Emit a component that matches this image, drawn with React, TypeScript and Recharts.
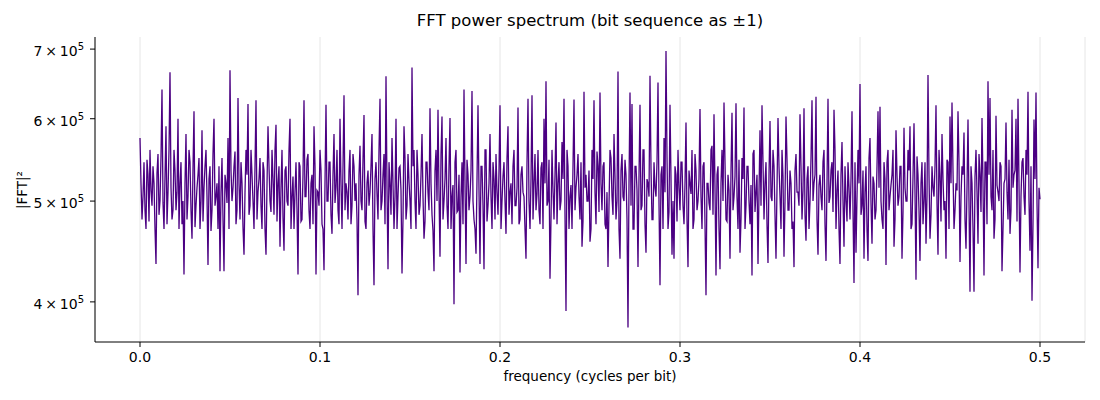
import React from 'react'
import { LineChart, Line, XAxis, YAxis, CartesianGrid } from 'recharts'

// |FFT|^2, in thousands, one value per bin (0 .. 0.5 cycles/bit)
const powerK = [
  575, 480, 545, 470, 530, 560, 495, 520, 435, 555,
  500, 640, 470, 590, 510, 665, 480, 560, 490, 600,
  520, 475, 425, 580, 505, 545, 460, 610, 495, 530,
  470, 585, 515, 560, 434, 540, 490, 600, 505, 470,
  428, 550, 428, 520, 575, 668, 500, 540, 475, 628,
  480, 520, 444, 560, 620, 495, 530, 470, 625, 510,
  550, 470, 535, 444, 590, 500, 560, 485, 592, 520,
  452, 560, 448, 540, 495, 600, 505, 470, 545, 425,
  540, 480, 625, 505, 555, 470, 530, 590, 425, 510,
  560, 475, 429, 619, 500, 545, 465, 580, 515, 490,
  600, 470, 632, 520, 480, 560, 495, 540, 520, 406,
  565, 490, 605, 470, 535, 510, 580, 415, 545, 480,
  627, 500, 555, 659, 430, 520, 575, 470, 600, 505,
  540, 426, 590, 480, 555, 500, 672, 560, 470, 530,
  495, 580, 460, 545, 510, 614, 485, 428, 560, 612,
  442, 603, 500, 575, 470, 601, 505, 398, 560, 490,
  427, 545, 640, 435, 530, 505, 638, 480, 445, 618,
  435, 540, 430, 560, 495, 580, 470, 525, 555, 485,
  618, 500, 545, 465, 590, 510, 475, 560, 495, 615,
  480, 540, 505, 440, 627, 470, 632, 520, 490, 560,
  475, 545, 600, 652, 500, 421, 560, 480, 595, 520,
  490, 570, 627, 392, 540, 505, 470, 626, 515, 555,
  480, 452, 637, 530, 500, 457, 560, 625, 475, 540,
  636, 490, 545, 470, 432, 560, 505, 580, 480, 666,
  440, 555, 500, 530, 378, 636, 620, 470, 540, 432,
  619, 495, 560, 446, 520, 660, 480, 545, 505, 650,
  415, 540, 575, 697, 470, 619, 444, 440, 530, 560,
  490, 545, 475, 595, 432, 520, 560, 480, 535, 500,
  613, 470, 545, 406, 520, 490, 565, 606, 424, 540,
  430, 560, 622, 480, 530, 440, 608, 505, 621, 470,
  446, 550, 615, 495, 540, 475, 424, 560, 510, 435,
  585, 618, 480, 545, 436, 597, 500, 540, 440, 601,
  505, 560, 442, 603, 490, 535, 470, 432, 555, 510,
  606, 480, 614, 458, 540, 500, 625, 520, 630, 444,
  530, 490, 560, 438, 627, 505, 545, 612, 470, 535,
  435, 570, 452, 500, 545, 480, 610, 417, 446, 560,
  648, 495, 440, 540, 438, 575, 455, 520, 490, 610,
  616, 480, 545, 434, 560, 505, 530, 452, 585, 495,
  540, 440, 588, 500, 560, 590, 475, 594, 420, 530,
  438, 545, 500, 455, 661, 460, 540, 505, 618, 444,
  530, 580, 490, 440, 545, 603, 622, 470, 520, 610,
  437, 540, 582, 450, 599, 409, 520, 409, 560, 455,
  530, 601, 424, 545, 652, 628, 490, 460, 604, 510,
  545, 428, 520, 595, 480, 465, 612, 530, 600, 627,
  427, 545, 505, 560, 637, 448, 401, 599, 636, 431,
  502,
]

// the bins in between, which mostly stay inside the dense band
const powerMidK = [
  520, 505, 490, 548, 478, 512, 540, 470, 532, 485,
  552, 498, 528, 475, 560, 515, 490, 535, 510, 470,
  545, 500, 520, 480, 560, 490, 538, 472, 515, 550,
  500, 478, 540, 505, 525, 468, 555, 495, 520, 540,
  510, 480, 530, 498, 470, 535, 515, 558, 490, 520,
  545, 472, 510, 530, 485, 560, 500, 540, 480, 525,
  495, 545, 470, 518, 540, 488, 525, 560, 478, 540,
  515, 482, 535, 500, 560, 470, 528, 510, 490, 545,
  478, 530, 505, 548, 490, 520, 475, 540, 512, 495,
  535, 470, 520, 500, 545, 485, 530, 498, 560, 475,
  520, 540, 490, 510, 535, 475, 555, 500, 480, 530,
  500, 548, 478, 520, 495, 540, 470, 525, 508, 560,
  490, 530, 475, 515, 545, 485, 520, 505, 470, 538,
  512, 480, 550, 495, 522, 470, 540, 500, 560, 485,
  530, 505, 478, 545, 490, 520, 468, 535, 500, 510,
  555, 480, 525, 495, 540, 470, 518, 545, 488, 530,
  505, 475, 520, 548, 490, 535, 500, 470, 525, 512,
  540, 495, 560, 478, 520, 505, 545, 480, 510, 535,
  470, 528, 500, 550, 485, 520, 540, 495, 515, 475,
  530, 510, 470, 545, 500, 525, 480, 555, 508, 490,
  538, 470, 520, 495, 548, 480, 512, 530, 475, 545,
  500, 525, 485, 560, 470, 518, 540, 490, 530, 505,
  545, 478, 515, 500, 535, 470, 525, 510, 558, 488,
  520, 540, 475, 510, 495, 550, 485, 528, 500, 470,
  535, 505, 548, 480, 520, 495, 470, 540, 512, 528,
  490, 560, 475, 525, 505, 538, 480, 515, 545, 498,
  530, 470, 510, 552, 488, 525, 500, 540, 478, 515,
  545, 495, 520, 480, 535, 508, 470, 555, 490, 525,
  505, 540, 475, 520, 498, 560, 485, 515, 530, 470,
  520, 500, 545, 478, 512, 535, 490, 528, 505, 548,
  480, 525, 470, 540, 500, 518, 555, 488, 530, 510,
  495, 545, 520, 475, 530, 505, 560, 485, 515, 540,
  470, 528, 500, 548, 490, 520, 478, 535, 510, 495,
  540, 512, 485, 525, 470, 550, 500, 530, 480, 518,
  505, 545, 475, 520, 498, 535, 488, 560, 512, 470,
  530, 500, 540, 478, 515, 525, 490, 545, 505, 520,
  485, 535, 510, 470, 550, 498, 528, 480, 540, 515,
  500, 470, 525, 545, 490, 518, 560, 480, 530, 505,
  540, 488, 515, 500, 535, 470, 528, 510, 552, 490,
  520, 475, 545, 505, 530, 485, 515, 540, 498, 560,
  478, 525, 500, 548, 470, 520, 535, 490, 512, 545,
  505, 530, 480, 515, 498, 540, 470, 528, 510, 555,
  488, 520, 545, 475, 530, 505, 560, 480, 518, 500,
  540, 470, 525, 510, 548, 490, 515, 535, 478, 520,
  505, 550, 485, 530, 500, 540, 475, 525, 498, 515,
]

const freqStep = 0.5 / (powerK.length - 1)
const xTicks = [0, 0.1, 0.2, 0.3, 0.4, 0.5]
const yTicks = [400000, 500000, 600000, 700000]

const data = powerK.flatMap((p, i) =>
  i < powerMidK.length
    ? [
        { f: i * freqStep, power: p * 1000 },
        { f: (i + 0.5) * freqStep, power: powerMidK[i] * 1000 },
      ]
    : [{ f: i * freqStep, power: p * 1000 }]
)

const font = '"DejaVu Sans", sans-serif'

function PowTick(props: any) {
  const { x, y, payload } = props
  const mant = Math.round(payload.value / 100000)
  return (
    <text x={x - 4} y={y + 2} dy="0.36em" textAnchor="end" fontSize={14} fontFamily={font} fill="#000">
      {`${mant}\u2009×\u200910`}
      <tspan dy={-6} fontSize={10}>5</tspan>
    </text>
  )
}

export default function App() {
  return (
    <div style={{ position: 'absolute', left: 0, top: 0, width: 1100, height: 400, background: '#fff', fontFamily: font }}>
      <div style={{ position: 'absolute', left: 0, top: 11, width: 1180, textAlign: 'center', fontSize: 16.5 }}>
        FFT power spectrum (bit sequence as ±1)
      </div>
      <div
        style={{
          position: 'absolute', left: 22, top: 190, fontSize: 13.5,
          transform: 'translate(-50%, -50%) rotate(-90deg)', whiteSpace: 'nowrap',
        }}
      >
        |FFT|²
      </div>
      <div style={{ position: 'absolute', left: 0, top: 368, width: 1180, textAlign: 'center', fontSize: 13.5 }}>
        frequency (cycles per bit)
      </div>
      <LineChart width={1100} height={400} data={data} margin={{ top: 37, right: 15, bottom: 0, left: 0 }}>
        <CartesianGrid horizontal={false} stroke="#e6e6e6" strokeWidth={1} />
        <XAxis
          dataKey="f"
          type="number"
          domain={[-0.025, 0.525]}
          ticks={xTicks}
          tickFormatter={(v: number) => v.toFixed(1)}
          height={58}
          tickSize={5}
          tickMargin={5}
          stroke="#000"
          tick={{ fill: '#000', fontSize: 14, fontFamily: font }}
          allowDataOverflow
        />
        <YAxis
          type="number"
          scale="log"
          domain={[366000, 719000]}
          ticks={yTicks}
          width={95}
          tickSize={5}
          stroke="#000"
          tick={<PowTick />}
          allowDataOverflow
        />
        <Line
          type="linear"
          dataKey="power"
          stroke="#4b0082"
          strokeWidth={1.3}
          dot={false}
          isAnimationActive={false}
        />
      </LineChart>
    </div>
  )
}
